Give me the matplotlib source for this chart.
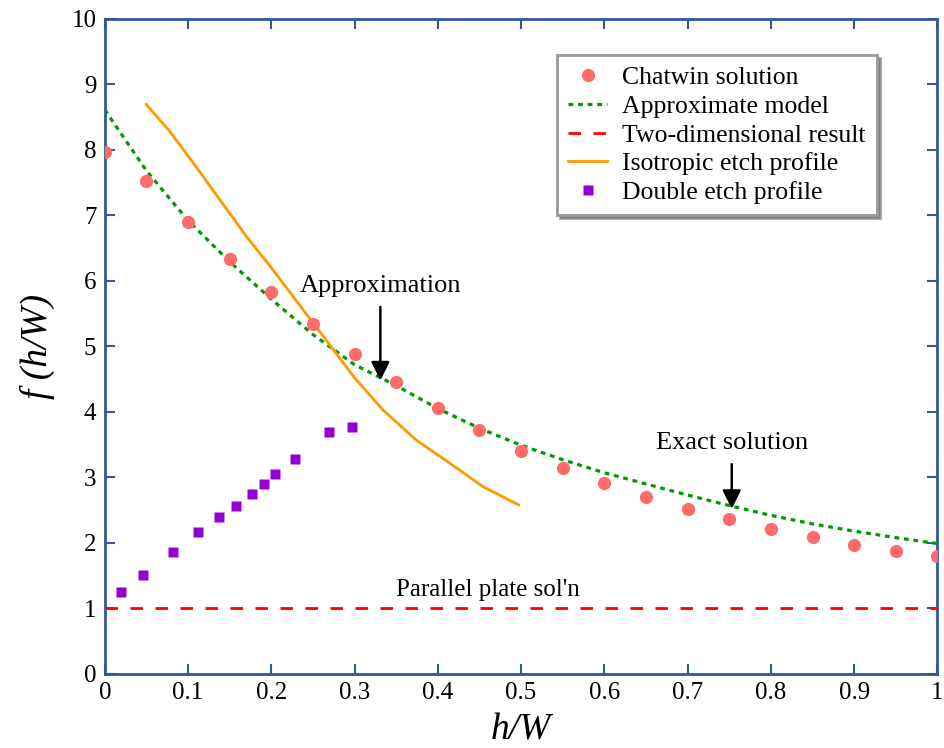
import matplotlib
matplotlib.use('Agg')
import matplotlib.pyplot as plt
import numpy as np

plt.rcParams['font.family'] = ['Liberation Serif', 'DejaVu Serif']

# Chatwin solution
x_chat = [0.0, 0.05, 0.1, 0.15, 0.2, 0.25, 0.3, 0.35, 0.4, 0.45, 0.5,
          0.55, 0.6, 0.65, 0.7, 0.75, 0.8, 0.85, 0.9, 0.95, 1.0]
y_chat = [7.97, 7.52, 6.89, 6.34, 5.83, 5.34, 4.89, 4.45, 4.06, 3.72, 3.40,
          3.15, 2.92, 2.70, 2.52, 2.37, 2.21, 2.09, 1.97, 1.88, 1.80]

# Approximate model
x_appr = [0.0, 0.05, 0.1, 0.15, 0.2, 0.25, 0.3, 0.35, 0.4, 0.45, 0.5,
          0.55, 0.6, 0.65, 0.7, 0.75, 0.8, 0.85, 0.9, 0.95, 1.0]
y_appr = [8.61, 7.68, 6.92, 6.29, 5.72, 5.18, 4.72, 4.40, 4.05, 3.75, 3.49,
          3.27, 3.07, 2.90, 2.73, 2.57, 2.42, 2.29, 2.18, 2.08, 1.99]

# Two-dimensional result
x_2d = [0.0, 1.0]
y_2d = [1.0, 1.0]

# Isotropic etch profile
x_iso = [0.05, 0.078, 0.108, 0.138, 0.17, 0.2, 0.25, 0.3, 0.334, 0.374, 0.414, 0.454, 0.497]
y_iso = [8.69, 8.28, 7.77, 7.24, 6.68, 6.20, 5.36, 4.52, 4.03, 3.57, 3.22, 2.86, 2.58]

# Double etch profile
x_dbl = [0.02, 0.046, 0.082, 0.112, 0.137, 0.158, 0.177, 0.191, 0.204, 0.228, 0.269, 0.297]
y_dbl = [1.25, 1.51, 1.86, 2.16, 2.39, 2.56, 2.74, 2.90, 3.05, 3.28, 3.69, 3.77]

spine_c = '#34569a'

fig = plt.figure(figsize=(9.44, 7.48), dpi=100)
ax = fig.add_axes([0.111, 0.099, 0.882, 0.876])

ax.plot(x_chat, y_chat, 'o', color='#ff6b6b', ms=9.5, mec='none', label='Chatwin solution', zorder=5)
ax.plot(x_appr, y_appr, color='#009900', lw=2.3, ls=(0, (1.5, 1.5)), label='Approximate model', zorder=3)
ax.plot(x_2d, y_2d, color='#ff0000', lw=2, ls=(0, (4.5, 4.5)), label='Two-dimensional result', zorder=3)
ax.plot(x_iso, y_iso, color='#ff9900', lw=2, label='Isotropic etch profile', zorder=4)
ax.plot(x_dbl, y_dbl, 's', color='#9400d3', ms=6.5, mec='none', label='Double etch profile', zorder=5)

ax.annotate('Approximation', xy=(0.331, 4.48), xytext=(0.331, 5.75),
            ha='center', va='bottom', fontsize=19,
            arrowprops=dict(arrowstyle='-|>', color='black', lw=1.8, mutation_scale=28, shrinkA=5, shrinkB=0))
ax.annotate('Exact solution', xy=(0.753, 2.52), xytext=(0.753, 3.35),
            ha='center', va='bottom', fontsize=19,
            arrowprops=dict(arrowstyle='-|>', color='black', lw=1.8, mutation_scale=28, shrinkA=5, shrinkB=0))
ax.text(0.46, 1.12, "Parallel plate sol'n", ha='center', va='bottom', fontsize=18)

ax.set_xlim(0, 1)
ax.set_ylim(0, 10)
ax.set_xticks(np.arange(0, 1.01, 0.1))
ax.set_xticklabels(['0', '0.1', '0.2', '0.3', '0.4', '0.5', '0.6', '0.7', '0.8', '0.9', '1'])
ax.set_yticks(range(0, 11))
ax.tick_params(direction='in', length=7, width=1.5, color=spine_c, labelsize=18,
               top=True, right=True, pad=6)
for s in ax.spines.values():
    s.set_color(spine_c)
    s.set_linewidth(2)

ax.set_xlabel('h/W', fontsize=27, style='italic', labelpad=6)
ax.set_ylabel('f (h/W)', fontsize=27, style='italic', labelpad=12)

leg = ax.legend(loc='upper left', bbox_to_anchor=(0.543, 0.945), fontsize=18.5,
                frameon=True, fancybox=False, shadow=True, edgecolor='#999999',
                borderpad=0.45, labelspacing=0.22, handlelength=1.5, handletextpad=0.6,
                borderaxespad=0)
leg.get_frame().set_linewidth(2)

fig.savefig('out.png', dpi=100)
